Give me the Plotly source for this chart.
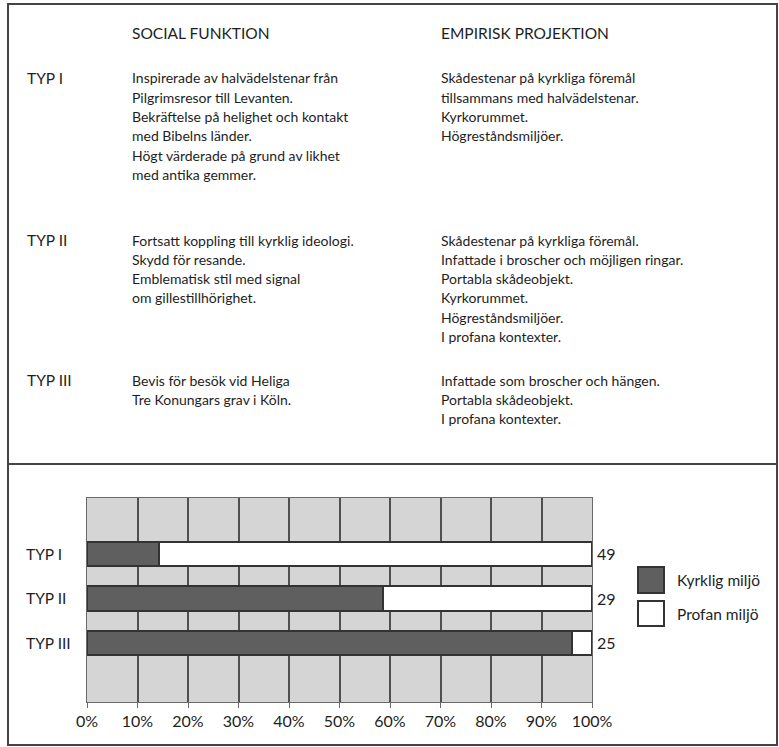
import plotly.graph_objects as go

# ---------------- data ----------------
categories = ["TYP I", "TYP II", "TYP III"]
kyrklig_counts = [7, 17, 24]
profan_counts = [42, 12, 1]
series_names = ["Kyrklig miljö", "Profan miljö"]
x_tick_vals = [0, 10, 20, 30, 40, 50, 60, 70, 80, 90, 100]
x_tick_text = ["0%", "10%", "20%", "30%", "40%", "50%", "60%", "70%", "80%", "90%", "100%"]

col_headers = ["SOCIAL FUNKTION", "EMPIRISK PROJEKTION"]
row_labels = ["TYP I", "TYP II", "TYP III"]
social_lines = [
    ["Inspirerade av halvädelstenar från", "Pilgrimsresor till Levanten.",
     "Bekräftelse på helighet och kontakt", "med Bibelns länder.",
     "Högt värderade på grund av likhet", "med antika gemmer."],
    ["Fortsatt koppling till kyrklig ideologi.", "Skydd för resande.",
     "Emblematisk stil med signal", "om gillestillhörighet."],
    ["Bevis för besök vid Heliga", "Tre Konungars grav i Köln."],
]
empirisk_lines = [
    ["Skådestenar på kyrkliga föremål", "tillsammans med halvädelstenar.",
     "Kyrkorummet.", "Högreståndsmiljöer."],
    ["Skådestenar på kyrkliga föremål.", "Infattade i broscher och möjligen ringar.",
     "Portabla skådeobjekt.", "Kyrkorummet.", "Högreståndsmiljöer.", "I profana kontexter."],
    ["Infattade som broscher och hängen.", "Portabla skådeobjekt.", "I profana kontexter."],
]

totals = [k + p for k, p in zip(kyrklig_counts, profan_counts)]

# ---------------- layout helpers ----------------
W, H = 779, 747
FONT = "Lato"
TXT = "#1e1e1e"
DARK = "#5f5f5f"
EDGE = "#333333"
CAPS = 15.5


def px(x):
    return x / W


def py(y):
    return 1 - y / H


fig = go.Figure()
fig.add_trace(go.Bar(y=categories, x=kyrklig_counts, name=series_names[0], orientation="h",
                     marker=dict(color=DARK, line=dict(color=EDGE, width=2)), showlegend=False))
fig.add_trace(go.Bar(y=categories, x=profan_counts, name=series_names[1], orientation="h",
                     marker=dict(color="white", line=dict(color=EDGE, width=2)), showlegend=False))

annotations = []
shapes = []

# table headers
annotations.append(dict(x=px(130), y=py(33), xref="paper", yref="paper", text=col_headers[0],
                        showarrow=False, xanchor="left", yanchor="middle", font=dict(size=CAPS)))
annotations.append(dict(x=px(439), y=py(33), xref="paper", yref="paper", text=col_headers[1],
                        showarrow=False, xanchor="left", yanchor="middle", font=dict(size=CAPS)))

row_start = [78, 240, 380]
line_h = 19.3
for r, lab in enumerate(row_labels):
    y0 = row_start[r]
    annotations.append(dict(x=px(25), y=py(y0), xref="paper", yref="paper", text=lab,
                            showarrow=False, xanchor="left", yanchor="middle", font=dict(size=CAPS)))
    for i, t in enumerate(social_lines[r]):
        annotations.append(dict(x=px(130), y=py(y0 + i * line_h), xref="paper", yref="paper", text=t,
                                showarrow=False, xanchor="left", yanchor="middle"))
    for i, t in enumerate(empirisk_lines[r]):
        annotations.append(dict(x=px(439), y=py(y0 + i * line_h), xref="paper", yref="paper", text=t,
                                showarrow=False, xanchor="left", yanchor="middle"))

# category labels (left aligned) and totals
for c, tot in zip(categories, totals):
    annotations.append(dict(x=px(24), y=c, xref="paper", yref="y", text=c, showarrow=False,
                            xanchor="left", yanchor="middle", font=dict(size=CAPS)))
    annotations.append(dict(x=100, y=c, xref="x", yref="y", text=str(tot), showarrow=False,
                            xanchor="left", yanchor="middle", xshift=3, font=dict(size=16)))

# legend
leg = [(567, 593, DARK, series_names[0]), (601, 626, "white", series_names[1])]
for y0, y1, col, name in leg:
    shapes.append(dict(type="rect", xref="paper", yref="paper", x0=px(638), x1=px(664),
                       y0=py(y1), y1=py(y0), fillcolor=col, line=dict(color=EDGE, width=2)))
    annotations.append(dict(x=px(675), y=py((y0 + y1) / 2), xref="paper", yref="paper", text=name,
                            showarrow=False, xanchor="left", yanchor="middle", font=dict(size=15.5)))

# frame and divider
shapes.append(dict(type="rect", xref="paper", yref="paper", x0=px(8), x1=px(777), y0=py(745), y1=py(4),
                   line=dict(color="#444", width=2), fillcolor="rgba(0,0,0,0)", layer="below"))
shapes.append(dict(type="line", xref="paper", yref="paper", x0=px(8), x1=px(777), y0=py(464), y1=py(464),
                   line=dict(color="#444", width=2)))

fig.update_layout(
    width=W, height=H,
    autosize=False,
    margin=dict(l=0, r=0, t=0, b=0, autoexpand=False),
    paper_bgcolor="white",
    plot_bgcolor="#d5d5d5",
    barmode="stack",
    barnorm="percent",
    bargap=0.46,
    font=dict(family=FONT, size=14, color=TXT),
    xaxis=dict(domain=[px(87), px(592)], range=[0, 100], tickvals=x_tick_vals, ticktext=x_tick_text,
               automargin=False,
               showgrid=True, gridcolor="#505050", gridwidth=1.5, zeroline=False,
               showline=True, linecolor="#6a6a6a", linewidth=1.2, mirror=True,
               ticks="outside", ticklen=5, tickcolor="#6a6a6a", tickfont=dict(size=16)),
    yaxis=dict(domain=[py(702), py(498)], categoryorder="array", categoryarray=categories,
               automargin=False,
               range=[3.326, -1.258], showticklabels=False, showgrid=False, zeroline=False,
               showline=True, linecolor="#6a6a6a", linewidth=1.2, mirror=True, ticks=""),
    annotations=annotations,
    shapes=shapes,
    showlegend=False,
)

fig.write_html("out.html", config={"responsive": False, "displayModeBar": False},
               post_script="document.body.style.margin='0';document.body.style.overflow='hidden';")
